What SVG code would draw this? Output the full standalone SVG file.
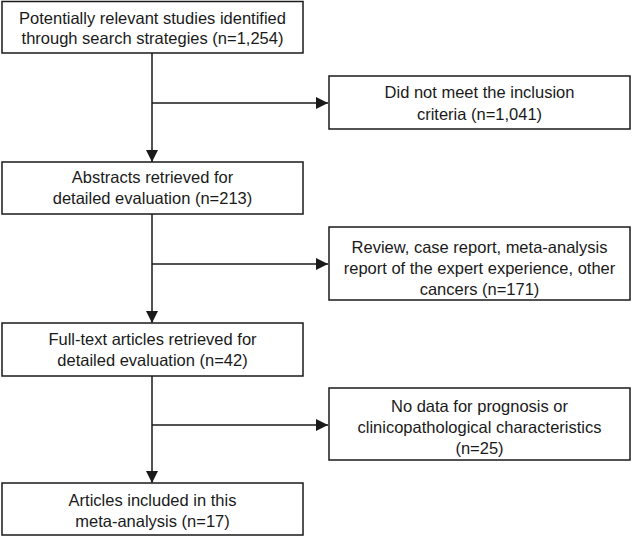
<svg xmlns="http://www.w3.org/2000/svg" width="632" height="537" viewBox="0 0 632 537">
<defs>
<style>
.box{fill:#fff;stroke:#1a1a1a;stroke-width:1.5}
.t{font-family:"Liberation Sans",Arial,sans-serif;font-size:16.5px;fill:#1a1a1a;text-anchor:middle}
.ln{fill:none;stroke:#1a1a1a;stroke-width:1.5}
</style>
<marker id="ah" markerWidth="12" markerHeight="12" viewBox="0 0 12 12" refX="12" refY="6" orient="auto" markerUnits="userSpaceOnUse">
<path d="M0,0 L12,6 L0,12 Z" fill="#1a1a1a"/>
</marker>
</defs>
<rect width="632" height="537" fill="#fff"/>
<g id="connectors">
<line class="ln" x1="152" y1="53" x2="152" y2="162" marker-end="url(#ah)"/>
<line class="ln" x1="152" y1="103" x2="328" y2="103" marker-end="url(#ah)"/>
<line class="ln" x1="152" y1="214" x2="152" y2="323" marker-end="url(#ah)"/>
<line class="ln" x1="152" y1="264" x2="328" y2="264" marker-end="url(#ah)"/>
<line class="ln" x1="152" y1="376" x2="152" y2="483" marker-end="url(#ah)"/>
<line class="ln" x1="152" y1="425" x2="328" y2="425" marker-end="url(#ah)"/>
</g>
<g id="n1">
<rect class="box" x="2" y="1.5" width="301" height="51.5"/>
<text class="t" x="152.5" y="24">Potentially relevant studies identified</text>
<text class="t" x="152.5" y="44">through search strategies (n=1,254)</text>
</g>
<g id="n2">
<rect class="box" x="329" y="76" width="301" height="53"/>
<text class="t" x="479.5" y="98">Did not meet the inclusion</text>
<text class="t" x="479.5" y="120">criteria (n=1,041)</text>
</g>
<g id="n3">
<rect class="box" x="2" y="162" width="301" height="52"/>
<text class="t" x="152.5" y="183">Abstracts retrieved for</text>
<text class="t" x="152.5" y="204">detailed evaluation (n=213)</text>
</g>
<g id="n4">
<rect class="box" x="329" y="227" width="301" height="73"/>
<text class="t" x="479.5" y="253">Review, case report, meta-analysis</text>
<text class="t" x="479.5" y="274">report of the expert experience, other</text>
<text class="t" x="479.5" y="295">cancers (n=171)</text>
</g>
<g id="n5">
<rect class="box" x="2" y="323" width="301" height="53"/>
<text class="t" x="152.5" y="345">Full-text articles retrieved for</text>
<text class="t" x="152.5" y="366">detailed evaluation (n=42)</text>
</g>
<g id="n6">
<rect class="box" x="329" y="388" width="301" height="72"/>
<text class="t" x="479.5" y="412">No data for prognosis or</text>
<text class="t" x="479.5" y="433">clinicopathological characteristics</text>
<text class="t" x="479.5" y="454">(n=25)</text>
</g>
<g id="n7">
<rect class="box" x="2" y="483" width="301" height="52"/>
<text class="t" x="152.5" y="506">Articles included in this</text>
<text class="t" x="152.5" y="527">meta-analysis (n=17)</text>
</g>
</svg>
